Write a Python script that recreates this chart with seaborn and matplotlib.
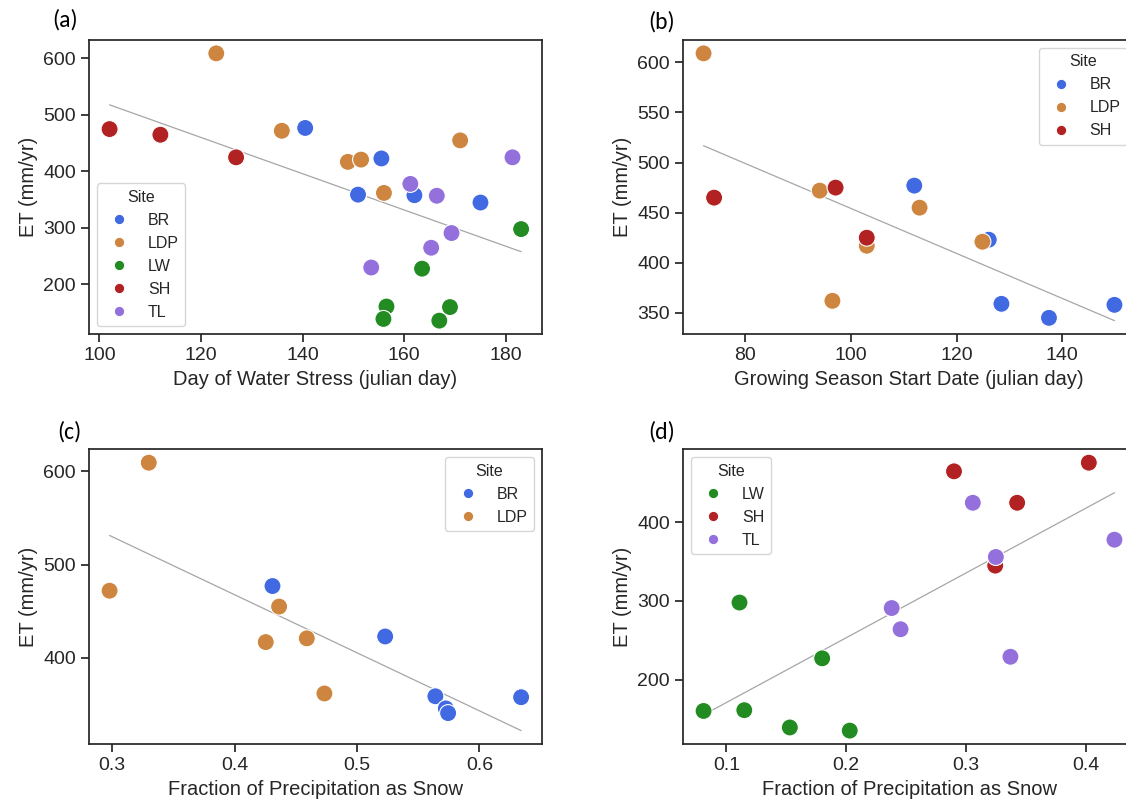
import matplotlib
matplotlib.use("Agg")
import matplotlib.pyplot as plt
import seaborn as sns
import pandas as pd
from matplotlib.ticker import FixedLocator

# ---------------- data ----------------
site_colors = {"BR": "#4169E1", "LDP": "#CD853F", "LW": "#228B22",
               "SH": "#B22222", "TL": "#9370DB"}

# Panel (a): Day of water stress vs ET
a_site = ["BR"] * 5 + ["LDP"] * 6 + ["LW"] * 6 + ["SH"] * 3 + ["TL"] * 6
a_x = [140.5, 155.5, 150.9, 162.0, 175.0,
       123.0, 135.9, 148.9, 151.5, 171.0, 156.0,
       183.0, 163.5, 156.5, 155.9, 169.0, 166.9,
       102.0, 112.0, 126.9,
       181.3, 161.2, 166.4, 169.3, 165.3, 153.5]
a_y = [477, 423, 359, 358, 345,
       609, 472, 417, 421, 455, 362,
       298, 228, 161, 139, 160, 136,
       475, 465, 425,
       425, 378, 357, 291, 265, 230]

# Panel (b): Growing season start date vs ET
b_site = ["BR"] * 5 + ["LDP"] * 6 + ["SH"] * 3
b_x = [112.0, 126.1, 128.5, 137.5, 149.9,
       72.1, 94.1, 113.0, 103.0, 124.9, 96.5,
       74.1, 97.1, 103.0]
b_y = [477, 423, 359, 345, 358,
       609, 472, 455, 417, 421, 362,
       465, 475, 425]

# Panel (c): Fraction of precipitation as snow vs ET (BR, LDP)
c_site = ["BR"] * 6 + ["LDP"] * 6
c_x = [0.431, 0.523, 0.564, 0.5725, 0.5744, 0.634,
       0.298, 0.330, 0.4364, 0.4255, 0.459, 0.4734]
c_y = [477, 423, 359, 346, 341, 358,
       472, 609, 455, 417, 421, 362]

# Panel (d): Fraction of precipitation as snow vs ET (LW, SH, TL)
d_site = ["LW"] * 6 + ["SH"] * 4 + ["TL"] * 6
d_x = [0.111, 0.180, 0.081, 0.115, 0.153, 0.203,
       0.290, 0.4025, 0.3427, 0.3244,
       0.3057, 0.4239, 0.3249, 0.238, 0.2454, 0.3371]
d_y = [298, 227, 160, 161, 139, 135,
       465, 476, 425, 345,
       425, 378, 356, 291, 264, 229]

a_xticks = [100, 120, 140, 160, 180]
a_yticks = [200, 300, 400, 500, 600]
b_xticks = [80, 100, 120, 140]
b_yticks = [350, 400, 450, 500, 550, 600]
c_xticks = [0.3, 0.4, 0.5, 0.6]
c_yticks = [400, 500, 600]
d_xticks = [0.1, 0.2, 0.3, 0.4]
d_yticks = [200, 300, 400]

xlabels = ["Day of Water Stress (julian day)",
           "Growing Season Start Date (julian day)",
           "Fraction of Precipitation as Snow",
           "Fraction of Precipitation as Snow"]
panel_tags = ["(a)", "(b)", "(c)", "(d)"]
ylabel = "ET (mm/yr)"

# ---------------- style ----------------
sns.set_theme(style="ticks")
plt.rcParams["font.family"] = ["Liberation Sans", "DejaVu Sans"]
plt.rcParams["axes.labelsize"] = 14.5
plt.rcParams["xtick.labelsize"] = 14
plt.rcParams["ytick.labelsize"] = 14

W, H = 1126, 802
fig = plt.figure(figsize=(W / 100, H / 100), dpi=100)

def frac(left, top, right, bottom):
    return [left / W, 1 - bottom / H, (right - left) / W, (bottom - top) / H]

rects = [frac(89, 40, 541.7, 334), frac(683, 40, 1135, 334),
         frac(89, 449.3, 541.7, 744), frac(683, 449.3, 1135, 744)]
datasets = [(a_site, a_x, a_y, a_xticks, a_yticks, "lower left"),
            (b_site, b_x, b_y, b_xticks, b_yticks, "upper right"),
            (c_site, c_x, c_y, c_xticks, c_yticks, "upper right"),
            (d_site, d_x, d_y, d_xticks, d_yticks, "upper left")]
tag_pos = [(65, 20), (662, 22), (69, 432), (662, 432)]

for i, (rect, (site, xs, ys, xt, yt, loc)) in enumerate(zip(rects, datasets)):
    ax = fig.add_axes(rect)
    df = pd.DataFrame({"Site": site, "x": xs, "y": ys})
    order = [s for s in site_colors if s in set(site)]
    sns.regplot(data=df, x="x", y="y", scatter=False, ci=None, ax=ax,
                color="#a6a6a6", line_kws={"lw": 0.9})
    sns.scatterplot(data=df, x="x", y="y", hue="Site", hue_order=order,
                    palette=site_colors, s=150, edgecolor="white",
                    linewidth=0.8, ax=ax, zorder=3)
    ax.xaxis.set_major_locator(FixedLocator(xt))
    ax.yaxis.set_major_locator(FixedLocator(yt))
    ax.set_xlabel(xlabels[i])
    ax.set_ylabel(ylabel)
    ax.tick_params(length=6, width=1.25)
    leg = ax.legend(title="Site", loc=loc, fontsize=11.5, title_fontsize=11.5)
    for h in leg.legend_handles:
        try:
            h.set_markersize(7.5)
        except AttributeError:
            h.set_sizes([56])
    tx, ty = tag_pos[i]
    fig.text(tx / W, 1 - ty / H, panel_tags[i], ha="center", va="center",
             fontsize=17, color="black", family=["Carlito", "DejaVu Sans"])

fig.savefig("out.png", dpi=100)
